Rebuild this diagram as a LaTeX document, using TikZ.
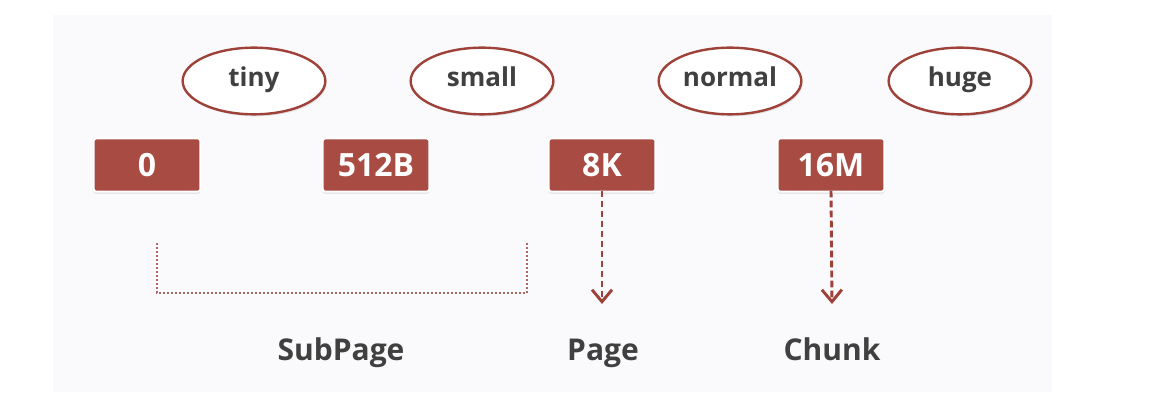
\documentclass[tikz,border=0pt]{standalone}
\usepackage{fontspec}
\setmainfont{Open Sans}
\usetikzlibrary{shapes.geometric,arrows.meta,shadows}
\definecolor{boxred}{HTML}{A84B42}
\definecolor{ellred}{HTML}{9E4139}
\definecolor{txt}{HTML}{404040}
\definecolor{panel}{HTML}{FAFAFC}
\tikzset{
  ell/.style={ellipse, draw=ellred, line width=1.8pt, fill=white, minimum width=107pt, minimum height=50pt, inner sep=0pt, text height=0.85em, text depth=0.05em, text=txt, font=\bfseries\fontsize{19.5}{22}\selectfont, drop shadow={opacity=0.2, shadow xshift=1pt, shadow yshift=-1.5pt}},
  valbox/.style={rectangle, rounded corners=2pt, draw=white, line width=1.5pt, fill=boxred, minimum width=80pt, minimum height=40pt, inner sep=0pt, text=white, font=\bfseries\fontsize{24}{27}\selectfont, drop shadow={opacity=0.25, shadow xshift=0pt, shadow yshift=-1.5pt}},
  lbl/.style={text=txt, font=\bfseries\fontsize{22.5}{25}\selectfont, inner sep=0pt, anchor=base},
  conn/.style={draw=ellred, line width=2.2pt, dash pattern=on 5pt off 2.5pt, -{Straight Barb[length=9pt,width=15pt,line width=2.2pt]}},
  brk/.style={draw=ellred!80, line width=2pt, dash pattern=on 1.5pt off 1.5pt}
}
\begin{document}
\begin{tikzpicture}[x=0.75pt,y=-0.75pt]
\useasboundingbox (0,0) rectangle (1172,406);
\fill[white] (0,0) rectangle (1172,406);
\fill[panel] (53,15) rectangle (1052,392);
\node[ell] (tiny) at (254,81) {tiny};
\node[ell] (small) at (482,81) {small};
\node[ell] (normal) at (730,81) {normal};
\node[ell] (huge) at (960,81) {huge};
\node[valbox] (v0) at (147,165) {0};
\node[valbox] (v512) at (376,165) {512B};
\node[valbox] (v8k) at (602,165) {8K};
\node[valbox] (v16m) at (831,165) {16M};
\coordinate (bl) at (157,243);
\coordinate (br) at (527,243);
\draw[brk] (bl) -- (157,293) -- (527,293) -- (br);
\coordinate (pe) at (602,304);
\coordinate (ce) at (832,304);
\draw[conn] (v8k.south) ++(0,-2) -- (pe);
\draw[conn] (v16m.south) ++(0,-2) -- (ce);
\node[lbl] (subpage) at (341,360) {SubPage};
\node[lbl] (page) at (603,360) {Page};
\node[lbl] (chunk) at (832,360) {Chunk};
\end{tikzpicture}
\end{document}
